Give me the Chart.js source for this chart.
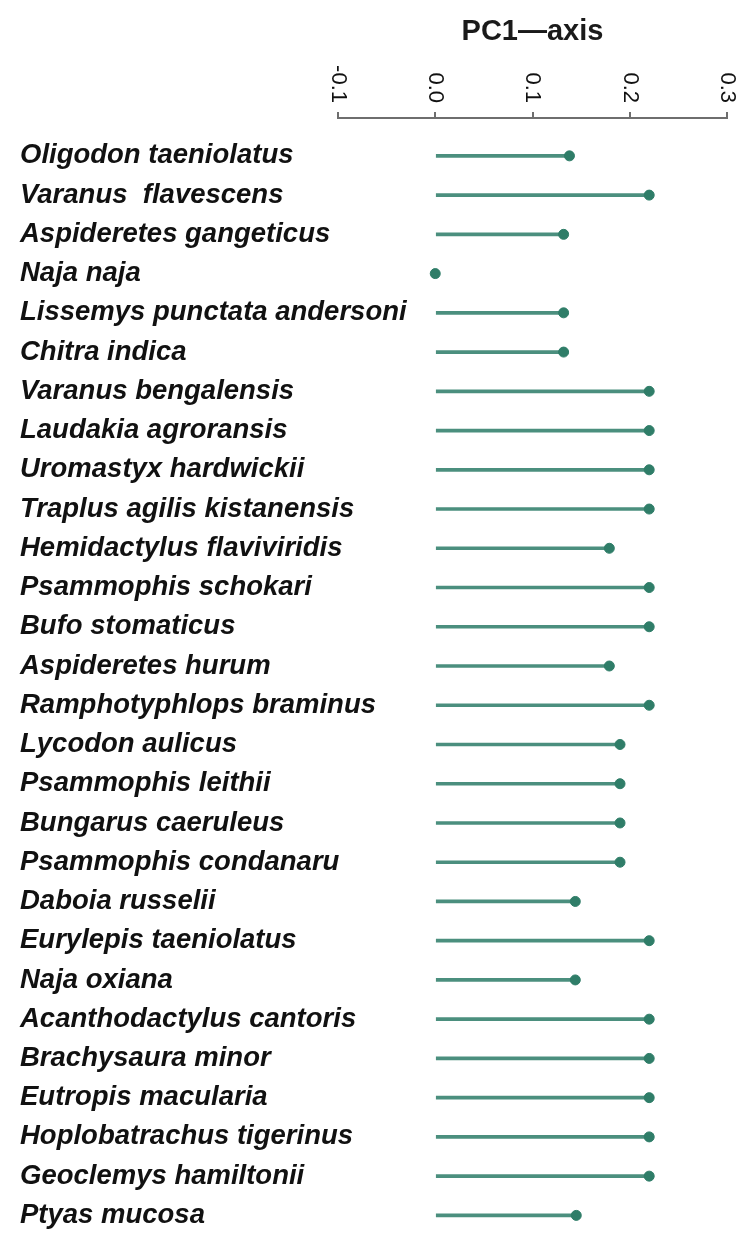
<!DOCTYPE html>
<html>
<head>
<meta charset="utf-8">
<script src="https://cdn.jsdelivr.net/npm/chart.js@4/dist/chart.umd.min.js"></script>
<style>
  html, body { margin: 0; padding: 0; background: #fff; }
  #wrap { width: 752px; height: 1241px; position: relative; }
</style>
</head>
<body>
<div id="wrap"><canvas id="pcChart"></canvas></div>
<script>
Chart.defaults.font.family = '"Liberation Sans", Arial, sans-serif'

const species = [
  'Oligodon taeniolatus', 'Varanus  flavescens', 'Aspideretes gangeticus', 'Naja naja',
  'Lissemys punctata andersoni', 'Chitra indica', 'Varanus bengalensis', 'Laudakia agroransis',
  'Uromastyx hardwickii', 'Traplus agilis kistanensis', 'Hemidactylus flaviviridis',
  'Psammophis schokari', 'Bufo stomaticus', 'Aspideretes hurum', 'Ramphotyphlops braminus',
  'Lycodon aulicus', 'Psammophis leithii', 'Bungarus caeruleus', 'Psammophis condanaru',
  'Daboia russelii', 'Eurylepis taeniolatus', 'Naja oxiana', 'Acanthodactylus cantoris',
  'Brachysaura minor', 'Eutropis macularia', 'Hoplobatrachus tigerinus', 'Geoclemys hamiltonii',
  'Ptyas mucosa'
];

const pc1 = [
  0.138, 0.22, 0.132, 0.0,
  0.132, 0.132, 0.22, 0.22,
  0.22, 0.22, 0.179,
  0.22, 0.22, 0.179, 0.22,
  0.19, 0.19, 0.19, 0.19,
  0.144, 0.22, 0.144, 0.22,
  0.22, 0.22, 0.22, 0.22,
  0.145
];

const tickValues = [-0.1, 0.0, 0.1, 0.2, 0.3];
const tickLabels = ['-0.1', '0.0', '0.1', '0.2', '0.3'];

const points = pc1.map((v, i) => ({ x: v, y: i }));

const padLeft = 20;
const yAxisWidth = 318;

// x tick labels are turned clockwise in the original figure
const topTickLabels = {
  id: 'topTickLabels',
  afterDraw(chart) {
    const ctx = chart.ctx;
    const xs = chart.scales.x;
    ctx.save();
    ctx.fillStyle = '#111';
    ctx.font = '22px "Liberation Sans", Arial, sans-serif';
    ctx.textAlign = 'right';
    ctx.textBaseline = 'middle';
    tickValues.forEach((v, i) => {
      ctx.save();
      ctx.translate(xs.getPixelForValue(v), chart.chartArea.top - 15);
      ctx.rotate(Math.PI / 2);
      ctx.fillText(tickLabels[i], 0, 0);
      ctx.restore();
    });
    ctx.restore();
  }
};

new Chart(document.getElementById('pcChart'), {
  type: 'bar',
  data: {
    datasets: [{
      type: 'scatter',
      data: points,
      backgroundColor: '#2f7d68',
      borderColor: '#2f7d68',
      pointRadius: 5,
      pointHoverRadius: 5
    }, {
      type: 'bar',
      data: points,
      backgroundColor: '#4b8f7e',
      barThickness: 3
    }]
  },
  options: {
    indexAxis: 'y',
    responsive: true,
    maintainAspectRatio: false,
    animation: false,
    layout: { padding: { left: padLeft, right: 25, top: 0, bottom: 0 } },
    plugins: {
      legend: { display: false },
      tooltip: { enabled: false }
    },
    scales: {
      x: {
        type: 'linear',
        position: 'top',
        min: -0.1,
        max: 0.3,
        afterBuildTicks: (scale) => {
          scale.ticks = tickValues.map((v) => ({ value: v }));
        },
        afterFit: (scale) => {
          scale.height = 118;
          scale.paddingLeft = 0;
          scale.paddingRight = 0;
        },
        ticks: { display: false },
        grid: {
          drawOnChartArea: false,
          color: '#6e6e6e',
          lineWidth: 2,
          tickLength: 6
        },
        border: { color: '#6e6e6e', width: 2 },
        title: {
          display: true,
          text: 'PC1—axis',
          color: '#1a1a1a',
          font: { size: 29, weight: 'bold' },
          padding: { top: 15, bottom: 0 }
        }
      },
      y: {
        type: 'linear',
        reverse: true,
        offset: false,
        min: -0.965,
        max: 27.5,
        afterBuildTicks: (scale) => {
          scale.ticks = species.map((_, i) => ({ value: i }));
        },
        afterFit: (scale) => {
          scale.width = yAxisWidth;
          scale.paddingTop = 0;
          scale.paddingBottom = 0;
        },
        grid: { display: false, offset: false },
        border: { display: false },
        ticks: {
          autoSkip: false,
          mirror: true,
          // mirrored labels start at the page's left margin, not inside the plot
          padding: -yAxisWidth,
          color: '#111',
          font: { size: 27.5, weight: 'bold', style: 'italic' },
          callback: (value) => species[value]
        }
      }
    }
  },
  plugins: [topTickLabels]
});
</script>
</body>
</html>
